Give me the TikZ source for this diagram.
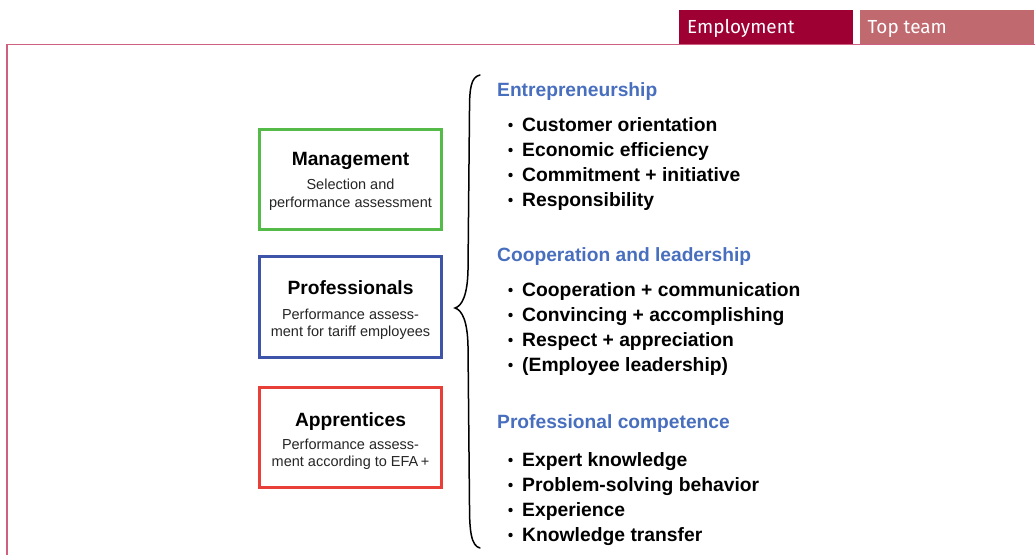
\documentclass[tikz,border=0pt]{standalone}
\usepackage{fontspec}
\setmainfont{Liberation Sans}
\newfontfamily\tabfont{Fira Sans}
\definecolor{tabdark}{RGB}{158,0,52}
\definecolor{tablight}{RGB}{192,106,112}
\definecolor{frameline}{RGB}{208,96,128}
\definecolor{headblue}{RGB}{72,110,190}
\definecolor{boxgreen}{RGB}{84,186,72}
\definecolor{boxblue}{RGB}{62,84,168}
\definecolor{boxred}{RGB}{232,64,56}
\tikzset{
  tabbox/.style={draw=none,inner sep=0pt},
  tabtext/.style={anchor=base west,inner sep=0pt,text=white,font=\tabfont\fontsize{18.9}{20}\selectfont},
  catbox/.style={draw,line width=3pt,fill=white,inner sep=0pt},
  cattitle/.style={anchor=base,inner sep=0pt,font=\bfseries\fontsize{19.2}{22}\selectfont},
  catsub/.style={anchor=base,inner sep=0pt,font=\fontsize{14.5}{17}\selectfont,text=black!85},
  heading/.style={anchor=base west,inner sep=0pt,text=headblue,font=\bfseries\fontsize{19.2}{22}\selectfont},
  item/.style={anchor=base west,inner sep=0pt,font=\bfseries\fontsize{19.3}{22}\selectfont},
  bulletdot/.style={circle,fill=black,inner sep=0pt,minimum size=4.4pt},
  bracepath/.style={line width=1.5pt,line cap=round}
}
\begin{document}
\begin{tikzpicture}[x=1pt,y=-1pt]
\useasboundingbox (0,0) rectangle (1035,555);
% frame
\draw[frameline,line width=1.8pt] (7,555) -- (7,44.5) -- (1035,44.5);
% tabs
\fill[tabdark] (679,10) rectangle (853,44);
\fill[tablight] (860,10) rectangle (1034,44);
\node[tabtext] (tab1) at (687,33.3) {Employment};
\node[tabtext] (tab2) at (867.5,33.3) {Top team};
% boxes
\node[catbox,draw=boxgreen,minimum width=182pt,minimum height=100.5pt] (mgmt) at (350.5,179.25) {};
\node[catbox,draw=boxblue,minimum width=182pt,minimum height=101pt] (prof) at (350.5,307) {};
\node[catbox,draw=boxred,minimum width=182pt,minimum height=99.5pt] (appr) at (350.5,437.25) {};
\node[cattitle] (mgmtT) at (350.5,165) {Management};
\node[catsub] (mgmtS1) at (350.5,189.5) {Selection and};
\node[catsub] (mgmtS2) at (350.5,207.3) {performance assessment};
\node[cattitle] (profT) at (350.5,294.5) {Professionals};
\node[catsub] (profS1) at (350.5,319.3) {Performance assess-};
\node[catsub] (profS2) at (350.5,336.7) {ment for tariff employees};
\node[cattitle] (apprT) at (350.5,426.5) {Apprentices};
\node[catsub] (apprS1) at (350.5,449.3) {Performance assess-};
\node[catsub] (apprS2) at (350.5,466.7) {ment according to EFA\,+};
% brace
\draw[bracepath] (480,75) .. controls (471,77) and (469.5,88) .. (469.5,110)
  -- (468,270) .. controls (467.5,295) and (462,306) .. (455,308)
  .. controls (462,310) and (467.5,321) .. (468,346)
  -- (469.5,506) .. controls (469.5,530) and (471,546) .. (480,548);
% section 1
\node[heading] (h1) at (497,96.5) {Entrepreneurship};
\foreach \t [count=\i] in {Customer orientation,Economic efficiency,Commitment + initiative,Responsibility}{
  \node[item] (a\i) at (522,131.5+25*\i-25) {\t};
  \node[bulletdot] (ab\i) at (510.5,125+25*\i-25) {};
}
% section 2
\node[heading] (h2) at (497,261) {Cooperation and leadership};
\foreach \t [count=\i] in {Cooperation + communication,Convincing + accomplishing,Respect + appreciation,(Employee leadership)}{
  \node[item] (b\i) at (522,296.5+25*\i-25) {\t};
  \node[bulletdot] (bb\i) at (510.5,290+25*\i-25) {};
}
% section 3
\node[heading] (h3) at (497,428.5) {Professional competence};
\foreach \t [count=\i] in {Expert knowledge,Problem-solving behavior,Experience,Knowledge transfer}{
  \node[item] (c\i) at (522,466.5+25*\i-25) {\t};
  \node[bulletdot] (cb\i) at (510.5,460+25*\i-25) {};
}
\end{tikzpicture}
\end{document}
